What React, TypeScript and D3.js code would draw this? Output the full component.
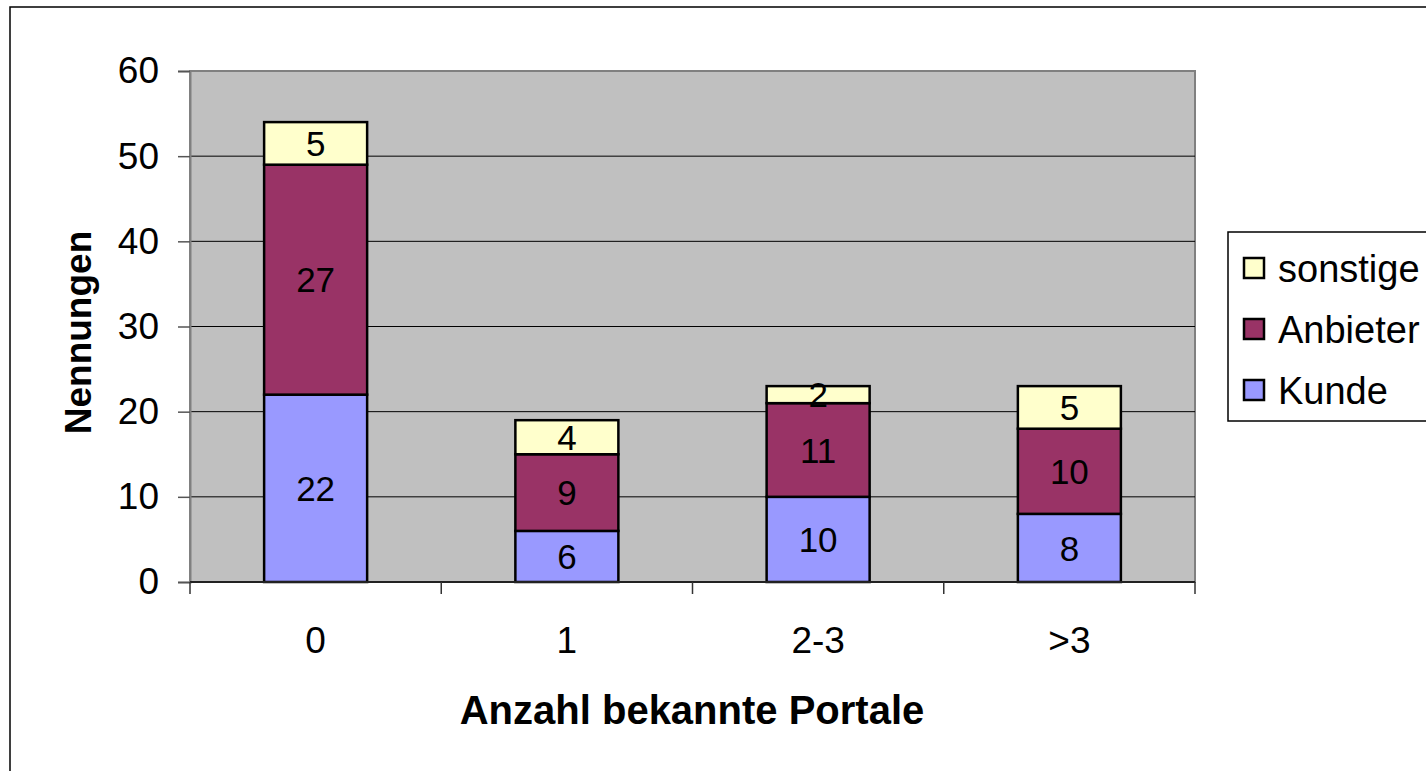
import React, { useEffect, useRef } from 'react';
import * as d3 from 'd3';

const categories = ['0', '1', '2-3', '>3'];
const kunde = [22, 6, 10, 8];
const anbieter = [27, 9, 11, 10];
const sonstige = [5, 4, 2, 5];
const seriesNames = ['Kunde', 'Anbieter', 'sonstige'];
const seriesColors = ['#9999FF', '#993366', '#FFFFCC'];
const yTicks = [0, 10, 20, 30, 40, 50, 60];

const W = 1426;
const H = 771;

const App: React.FC = () => {
  const svgRef = useRef<SVGSVGElement>(null);

  useEffect(() => {
    if (!svgRef.current) return;
    const svg = d3.select(svgRef.current);
    svg.selectAll('*').remove();

    const font = 'Arial, "Liberation Sans", sans-serif';
    const plot = { left: 190, right: 1195, top: 71, bottom: 582 };

    // outer chart border
    svg.append('rect')
      .attr('x', 10).attr('y', 7)
      .attr('width', W + 20).attr('height', H + 20)
      .attr('fill', '#fff').attr('stroke', '#000').attr('stroke-width', 1.5);

    const x = d3.scaleBand<string>()
      .domain(categories)
      .range([plot.left, plot.right])
      .paddingInner(0.59)
      .paddingOuter(0.295);

    const y = d3.scaleLinear().domain([0, 60]).range([plot.bottom, plot.top]);

    // plot background
    svg.append('rect')
      .attr('x', plot.left).attr('y', plot.top)
      .attr('width', plot.right - plot.left).attr('height', plot.bottom - plot.top)
      .attr('fill', '#C0C0C0').attr('stroke', '#808080').attr('stroke-width', 2);

    // gridlines
    svg.append('g')
      .selectAll('line')
      .data(yTicks.filter(t => t > 0 && t < 60))
      .enter().append('line')
      .attr('x1', plot.left).attr('x2', plot.right)
      .attr('y1', d => y(d)).attr('y2', d => y(d))
      .attr('stroke', '#000').attr('stroke-width', 1);

    // stacked data
    const rows = categories.map((c, i) => ({ cat: c, Kunde: kunde[i], Anbieter: anbieter[i], sonstige: sonstige[i] }));
    const stack = d3.stack<any>().keys(seriesNames)(rows);

    const layers = svg.append('g')
      .selectAll('g')
      .data(stack)
      .enter().append('g')
      .attr('fill', (_d, i) => seriesColors[i]);

    layers.selectAll('rect')
      .data(d => d)
      .enter().append('rect')
      .attr('x', d => x(d.data.cat)!)
      .attr('width', x.bandwidth())
      .attr('y', d => y(d[1]))
      .attr('height', d => y(d[0]) - y(d[1]))
      .attr('stroke', '#000').attr('stroke-width', 2.5);

    layers.selectAll('text')
      .data(d => d)
      .enter().append('text')
      .attr('x', d => x(d.data.cat)! + x.bandwidth() / 2)
      .attr('y', d => (y(d[0]) + y(d[1])) / 2)
      .attr('dy', '0.36em')
      .attr('text-anchor', 'middle')
      .attr('fill', '#000')
      .style('font-family', font)
      .style('font-size', '35px')
      .text(d => String(d[1] - d[0]));

    // y axis
    const yAxis = d3.axisLeft(y).tickValues(yTicks).tickSize(12).tickPadding(19);
    const gy = svg.append('g').attr('transform', `translate(${plot.left},0)`).call(yAxis);
    gy.select('.domain').attr('stroke', '#808080').attr('stroke-width', 2);
    gy.selectAll('.tick line').attr('stroke', '#555').attr('stroke-width', 1.5);
    gy.selectAll('.tick text')
      .attr('fill', '#000')
      .style('font-family', font)
      .style('font-size', '37px');

    // x axis
    const gx = svg.append('g').attr('transform', `translate(0,${plot.bottom})`);
    gx.append('line')
      .attr('x1', plot.left).attr('x2', plot.right)
      .attr('y1', 0).attr('y2', 0)
      .attr('stroke', '#222').attr('stroke-width', 2);
    const step = (plot.right - plot.left) / categories.length;
    gx.selectAll('.xtick')
      .data(d3.range(categories.length + 1))
      .enter().append('line')
      .attr('x1', d => plot.left + d * step).attr('x2', d => plot.left + d * step)
      .attr('y1', 0).attr('y2', 12)
      .attr('stroke', '#333').attr('stroke-width', 1.5);
    gx.selectAll('.xlabel')
      .data(categories)
      .enter().append('text')
      .attr('x', d => x(d)! + x.bandwidth() / 2)
      .attr('y', 58)
      .attr('dy', '0.36em')
      .attr('text-anchor', 'middle')
      .style('font-family', font)
      .style('font-size', '37px')
      .text(d => d);

    // axis titles
    svg.append('text')
      .attr('x', 692).attr('y', 710)
      .attr('dy', '0.36em')
      .attr('text-anchor', 'middle')
      .style('font-family', font)
      .style('font-size', '40px')
      .style('font-weight', 'bold')
      .text('Anzahl bekannte Portale');

    svg.append('text')
      .attr('transform', `translate(78, ${(plot.top + plot.bottom) / 2 + 6}) rotate(-90)`)
      .attr('dy', '0.36em')
      .attr('text-anchor', 'middle')
      .style('font-family', font)
      .style('font-size', '37px')
      .style('font-weight', 'bold')
      .text('Nennungen');

    // legend
    const legend = svg.append('g').attr('transform', 'translate(1228,232)');
    legend.append('rect')
      .attr('x', 0).attr('y', 0).attr('width', 260).attr('height', 189)
      .attr('fill', '#fff').attr('stroke', '#000').attr('stroke-width', 1.5);
    const legendOrder = [2, 1, 0];
    const item = legend.selectAll('.item')
      .data(legendOrder)
      .enter().append('g')
      .attr('transform', (_d, i) => `translate(0, ${36 + i * 61})`);
    item.append('rect')
      .attr('x', 16).attr('y', -10).attr('width', 20).attr('height', 20)
      .attr('fill', d => seriesColors[d])
      .attr('stroke', '#000').attr('stroke-width', 2.5);
    item.append('text')
      .attr('x', 50).attr('y', 0)
      .attr('dy', '0.36em')
      .style('font-family', font)
      .style('font-size', '38px')
      .text(d => seriesNames[d]);
  }, []);

  return (
    <svg
      ref={svgRef}
      width={W}
      height={H}
      style={{ position: 'absolute', left: 0, top: 0, background: '#fff' }}
    />
  );
};

export default App;
